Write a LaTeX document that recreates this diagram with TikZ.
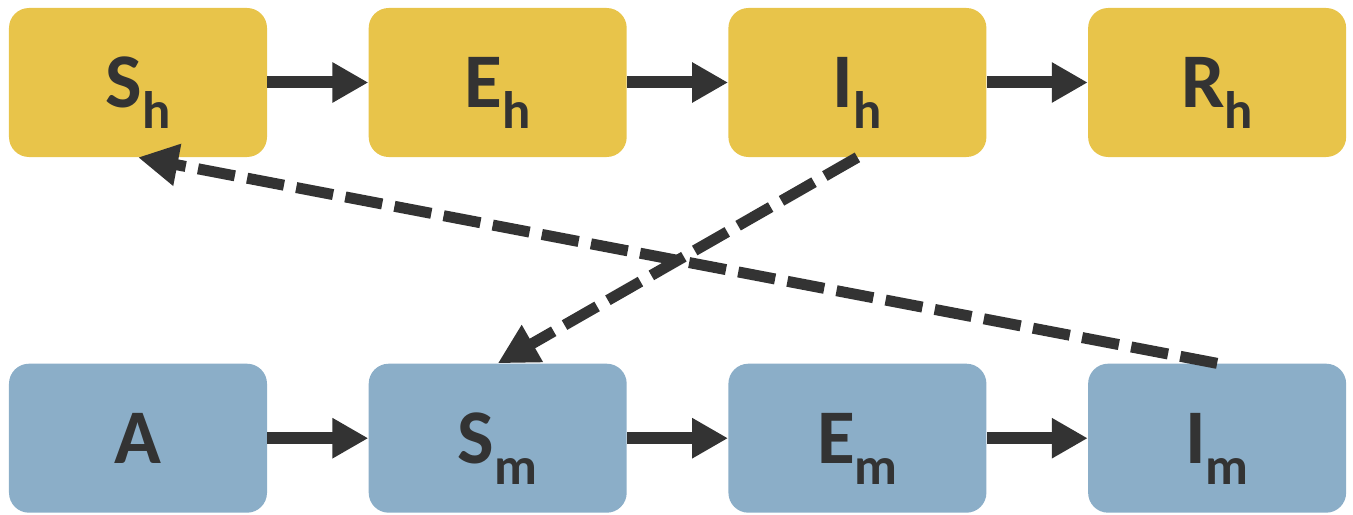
\documentclass[tikz,border=0pt]{standalone}
\usepackage{fontspec}
\setmainfont{Carlito}
\usetikzlibrary{positioning,arrows.meta}
\definecolor{hjaune}{RGB}{232,196,74}
\definecolor{mbleu}{RGB}{139,174,200}
\definecolor{fonce}{RGB}{51,51,51}
\newcommand{\indice}[1]{\raisebox{-12pt}[0pt][0pt]{\fontsize{30}{30}\selectfont #1}}

\begin{document}
\begin{tikzpicture}[
  boite/.style={rounded corners=0.4cm, minimum width=5.16cm, minimum height=2.98cm,
    inner sep=0pt, text=fonce, font=\fontsize{44}{44}\selectfont\bfseries},
  hote/.style={boite, fill=hjaune},
  moustique/.style={boite, fill=mbleu},
  fleche/.style={fonce, line width=0.24cm, -{Triangle[length=0.72cm,width=0.76cm]}},
  contact/.style={fonce, line width=0.22cm, dash pattern=on 0.75cm off 0.25cm,
    -{Triangle[length=0.8cm,width=0.8cm]}},
  node distance=2.02cm]
\useasboundingbox (0,0) rectangle (27.06,-10.28);
% humains
\node[hote] (sh) at (2.76,-1.65) {S\indice{h}};
\node[hote, right=of sh] (eh) {E\indice{h}};
\node[hote, right=of eh] (ih) {I\indice{h}};
\node[hote, right=of ih] (rh) {R\indice{h}};
% moustiques
\node[moustique, below=4.12cm of sh] (a) {A};
\node[moustique, right=of a] (sm) {S\indice{m}};
\node[moustique, right=of sm] (em) {E\indice{m}};
\node[moustique, right=of em] (im) {I\indice{m}};
\foreach \u/\v in {sh/eh, eh/ih, ih/rh, a/sm, sm/em, em/im}
  \draw[fleche] (\u) -- (\v);
\draw[contact] (ih.south) -- (sm.north);
\draw[contact] (im.north) -- (sh.south);
\end{tikzpicture}
\end{document}
